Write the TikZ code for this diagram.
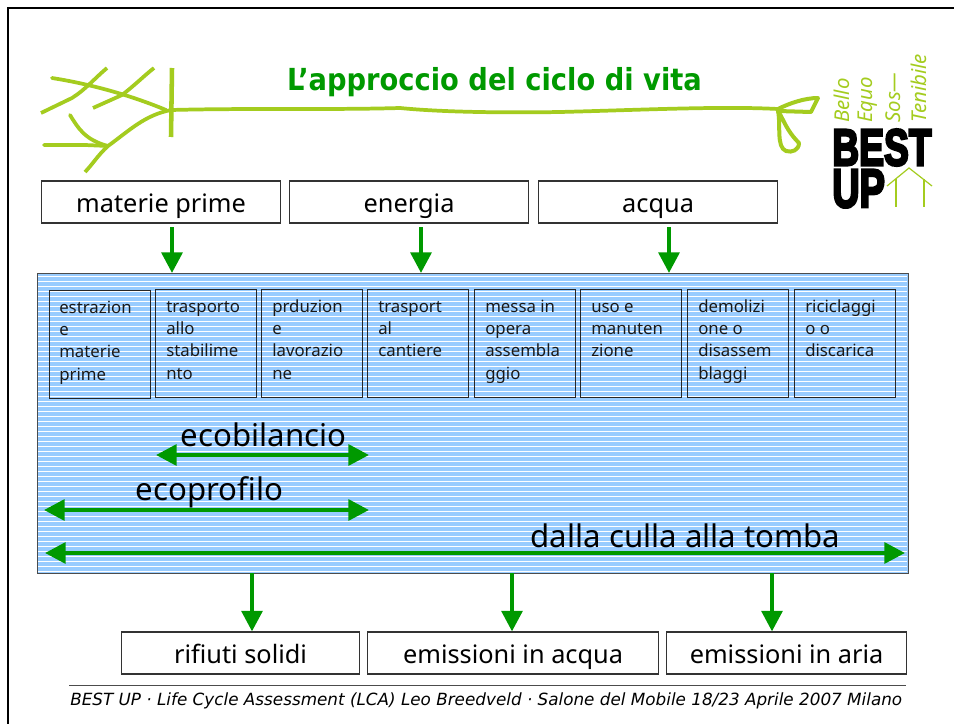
\documentclass[tikz,border=0pt]{standalone}
\usepackage{fontspec}
\usepackage{graphicx}
\setmainfont{Noto Sans}
\newfontfamily\logofont{Liberation Sans}[UprightFont=* Bold,FakeBold=5]
\newfontfamily\titlefont{DejaVu Sans}[UprightFont=* Bold]
\newfontfamily\footfont{DejaVu Sans}[UprightFont=* Oblique]
\newcommand{\fs}{\rule{0pt}{12pt}}
\usetikzlibrary{arrows.meta}
\definecolor{leaf}{HTML}{A4CC1F}
\definecolor{arrowgreen}{HTML}{009900}
\definecolor{sky}{HTML}{99CCFF}
\tikzset{
 x=0.75pt,y=-0.75pt,
 inbox/.style={draw=black!80,line width=0.85pt,fill=white,minimum width=#1*0.75pt,minimum height=31.5pt,inner sep=0pt,text height=19pt,text depth=4pt,font=\fontsize{19}{20}\selectfont,anchor=west},
 stage/.style={draw=black!85,line width=0.7pt,minimum width=75.5pt,minimum height=81pt,inner sep=0pt,anchor=north west},
 stagetext/.style={align=left,anchor=north west,inner sep=0pt,text=black!90,font=\fontsize{12.6}{16.7}\selectfont},
 flow/.style={arrowgreen,line width=3.2pt,-{Triangle[length=15.5pt,width=15.5pt]}},
 span/.style={arrowgreen,line width=3.2pt,{Triangle[length=15.5pt,width=15.5pt]}-{Triangle[length=15.5pt,width=15.5pt]}},
 spanlabel/.style={inner sep=0pt,anchor=base,font=\fontsize{23.4}{25}\selectfont},
 branch/.style={leaf,line width=2.8pt,line cap=round,line join=round},
 script/.style={leaf,font=\itshape\fontsize{15.3}{15.3}\selectfont,rotate=90,anchor=west,inner sep=0pt},
}
\begin{document}
\begin{tikzpicture}
\useasboundingbox (0,0) rectangle (954,724);
\fill[white] (0,0) rectangle (954,724);
\draw[black,line width=2pt] (8,724) -- (8,8) -- (954,8);
% tree
\draw[branch,line width=3.4pt,line cap=butt] (172,68) -- (171,137);
\draw[branch] (171,110) .. controls (250,108) and (330,110) .. (400,108) .. controls (440,112) and (500,113) .. (560,112) .. controls (640,110) and (720,106) .. (778,109);
\draw[branch,line cap=butt] (41,113) -- (72,98) .. controls (85,90) and (95,78) .. (107,68);
\draw[branch] (52,78) .. controls (90,84) and (130,95) .. (166,110);
\draw[branch,line cap=butt] (93,108) -- (122,95) .. controls (135,85) and (145,75) .. (154,68);
\draw[branch,line cap=butt] (171,110) .. controls (145,115) and (130,130) .. (108,146) .. controls (98,155) and (92,165) .. (85,172);
\draw[branch] (44,145) -- (85,145) -- (108,146);
\draw[branch] (70,115) .. controls (78,128) and (85,140) .. (108,146);
\draw[branch,line width=3pt] (778,109) .. controls (790,103) and (805,98) .. (818,98) -- (811,112) -- (778,111);
\draw[branch,line width=3pt] (778,111) .. controls (784,120) and (786,130) .. (799,143) .. controls (799,150) and (792,153) .. (786,151) .. controls (776,147) and (781,125) .. (778,111);
% title
\node[inner sep=0pt,anchor=base,text=arrowgreen,font=\titlefont] (title) at (494.5,91) {\resizebox{311pt}{17.3pt}{L’approccio del ciclo di vita}};
% logo
\node[script] (s1) at (842,123) {Bello};
\node[script] (s2) at (868,123) {Equo};
\node[script] (s3) at (893,123) {Sos---};
\node[script] (s4) at (919,123) {Tenibile};
\node[inner sep=0pt,font=\logofont,anchor=north west] (best) at (832,129) {\resizebox{74.5pt}{27pt}{BEST}};
\node[inner sep=0pt,font=\logofont,anchor=north west] (up) at (832,169.5) {\resizebox{39.5pt}{28pt}{UP}};
\coordinate (roofl) at (887,186);
\coordinate (roofr) at (932,186);
\coordinate (rooft) at (909,168);
\draw[leaf,line width=0.9pt] (roofl) -- (rooft) -- (roofr);
\draw[leaf,line width=0.9pt] (896,179) -- (896,207);
\draw[leaf,line width=0.9pt] (924,179) -- (924,207);
% input boxes
\node[inbox=239] (mp) at (41,202) {materie prime};
\node[inbox=239] (en) at (289,202) {energia};
\node[inbox=239] (ac) at (538,202) {acqua};
% panel
\fill[sky] (37,273) rectangle (908,573);
\foreach \y in {276,281,...,572} \draw[white,line width=0.75pt] (38,\y) -- (907,\y);
\node[draw=black!70,line width=0.8pt,minimum width=653.25pt,minimum height=225pt,inner sep=0pt,anchor=north west] (panel) at (37,273) {};
% stages
\node[stage] (b1) at (49,290) {};
\node[stage] (b2) at (155,289) {};
\node[stage] (b3) at (261,289) {};
\node[stage] (b4) at (367,289) {};
\node[stage] (b5) at (474,289) {};
\node[stage] (b6) at (580,289) {};
\node[stage] (b7) at (687,289) {};
\node[stage] (b8) at (794,289) {};
\node[stagetext] (t1) at (59,297) {\fs estrazion\\e\\materie\\prime};
\node[stagetext] (t2) at (166,296) {\fs trasporto\\allo\\stabilime\\nto};
\node[stagetext] (t3) at (272,296) {\fs prduzion\\e\\lavorazio\\ne};
\node[stagetext] (t4) at (378,296) {\fs trasport\\al\\cantiere};
\node[stagetext] (t5) at (485,296) {\fs messa in\\opera\\assembla\\ggio};
\node[stagetext] (t6) at (591,296) {\fs uso e\\manuten\\zione};
\node[stagetext] (t7) at (698,296) {\fs demolizi\\one o\\disassem\\blaggi};
\node[stagetext] (t8) at (805,296) {\fs riciclaggi\\o o\\discarica};
% spans
\coordinate (e1) at (156,455); \coordinate (e2) at (369,455);
\coordinate (p1) at (44,510); \coordinate (p2) at (369,510);
\coordinate (d1) at (45,553); \coordinate (d2) at (905,553);
\draw[span] (e1) -- (e2);
\draw[span] (p1) -- (p2);
\draw[span] (d1) -- (d2);
\node[spanlabel] (l1) at (263.5,446) {ecobilancio};
\node[spanlabel] (l2) at (209.5,500.5) {ecoprofilo};
\node[spanlabel] (l3) at (685.5,547) {dalla culla alla tomba};
% output boxes
\node[inbox=238] (o1) at (121,653) {rifiuti solidi};
\node[inbox=291] (o2) at (367,653) {emissioni in acqua};
\node[inbox=240] (o3) at (666,653) {emissioni in aria};
% flows
\coordinate (i1) at (172,227); \coordinate (i2) at (421,227); \coordinate (i3) at (669,227);
\draw[flow] (i1) -- (i1 |- panel.north);
\draw[flow] (i2) -- (i2 |- panel.north);
\draw[flow] (i3) -- (i3 |- panel.north);
\coordinate (u1) at (252,573); \coordinate (u2) at (512,573); \coordinate (u3) at (772,573);
\draw[flow] (u1) -- (u1 |- o1.north);
\draw[flow] (u2) -- (u2 |- o2.north);
\draw[flow] (u3) -- (u3 |- o3.north);
% footer
\coordinate (f1) at (69,685); \coordinate (f2) at (906,685);
\draw[black!70,line width=0.6pt] (f1) -- (f2);
\node[inner sep=0pt,font=\footfont,anchor=base west] (foot) at (70,705.5) {\resizebox{624pt}{!}{BEST UP · Life Cycle Assessment (LCA) Leo Breedveld · Salone del Mobile 18/23 Aprile 2007 Milano}};
\end{tikzpicture}
\end{document}
